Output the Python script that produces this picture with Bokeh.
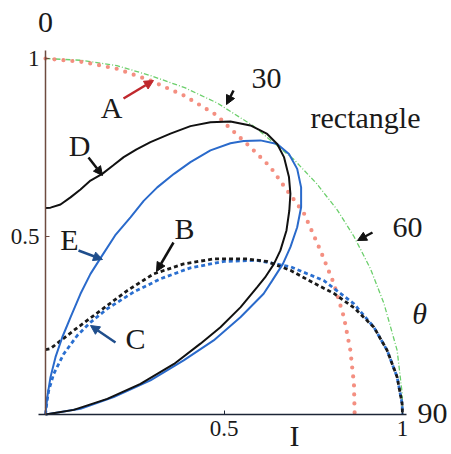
from bokeh.plotting import figure
from bokeh.models import Range1d, FixedTicker, Label, Arrow, NormalHead
from bokeh.embed import file_html
from bokeh.resources import INLINE

# ---- data (x = I sin(theta), y = I cos(theta)) ----
G_x = [0.0, 0.1, 0.2, 0.294, 0.39, 0.481, 0.583, 0.696, 0.76, 0.817, 0.864, 0.91, 0.948, 0.985, 0.999, 1.0]
G_y = [1.0, 0.995, 0.98, 0.952, 0.918, 0.875, 0.81, 0.716, 0.648, 0.575, 0.5, 0.41, 0.312, 0.18, 0.06, 0.0]

A_x = [0.0, 0.107, 0.2, 0.294, 0.388, 0.481, 0.5, 0.574, 0.63, 0.677, 0.724, 0.77, 0.808, 0.836, 0.854, 0.864, 0.866]
A_y = [1.0, 0.99, 0.971, 0.938, 0.896, 0.84, 0.82, 0.751, 0.695, 0.629, 0.565, 0.461, 0.367, 0.273, 0.18, 0.086, 0.0]

B_x = [0.0, 0.014, 0.079, 0.154, 0.229, 0.303, 0.387, 0.471, 0.565, 0.62, 0.686, 0.75, 0.808, 0.864, 0.92, 0.957, 0.985, 0.999, 1.0]
B_y = [0.182, 0.185, 0.236, 0.292, 0.348, 0.395, 0.423, 0.437, 0.437, 0.43, 0.405, 0.37, 0.34, 0.3, 0.245, 0.18, 0.105, 0.03, 0.0]

C_x = [0.0, 0.004, 0.009, 0.023, 0.051, 0.089, 0.126, 0.173, 0.247, 0.322, 0.406, 0.5, 0.593, 0.686, 0.78,
       0.864, 0.92, 0.957, 0.985, 0.999, 1.0]
C_y = [0.0, 0.035, 0.067, 0.114, 0.17, 0.222, 0.259, 0.297, 0.344, 0.381, 0.412, 0.43, 0.433, 0.415, 0.376,
       0.311, 0.245, 0.18, 0.105, 0.03, 0.0]

D_x = [0.0, 0.014, 0.042, 0.07, 0.098, 0.126, 0.159, 0.19, 0.219, 0.255, 0.294, 0.35, 0.406, 0.462, 0.518,
       0.574, 0.621, 0.649, 0.668, 0.682, 0.686, 0.683, 0.675, 0.658, 0.64, 0.615, 0.593, 0.546, 0.49, 0.434,
       0.36, 0.266, 0.173, 0.079, 0.0]
D_y = [0.58, 0.581, 0.59, 0.61, 0.632, 0.657, 0.676, 0.70, 0.723, 0.745, 0.765, 0.789, 0.810, 0.821, 0.823,
       0.812, 0.788, 0.760, 0.723, 0.667, 0.62, 0.573, 0.517, 0.461, 0.423, 0.385, 0.358, 0.301, 0.245, 0.199,
       0.142, 0.086, 0.044, 0.013, 0.0]

E_x = [0.0, 0.005, 0.014, 0.028, 0.047, 0.07, 0.098, 0.126, 0.159, 0.195, 0.238, 0.275, 0.313, 0.36, 0.406,
       0.462, 0.518, 0.555, 0.602, 0.649, 0.682, 0.705, 0.716, 0.716, 0.705, 0.686, 0.665, 0.635, 0.611, 0.546,
       0.471, 0.387, 0.294, 0.191, 0.098, 0.0]
E_y = [0.0, 0.049, 0.105, 0.161, 0.217, 0.273, 0.339, 0.395, 0.447, 0.503, 0.554, 0.6, 0.638, 0.676, 0.709,
       0.742, 0.762, 0.768, 0.77, 0.76, 0.732, 0.69, 0.638, 0.582, 0.526, 0.47, 0.423, 0.376, 0.339, 0.273,
       0.208, 0.152, 0.096, 0.049, 0.016, 0.0]

TICKS = [0.5, 1]
TICK_LABELS = {0.5: "0.5", 1: "1"}

FONT = "Liberation Serif"

# pixel geometry of the reference: x=0 at px 45, x=1 at px 402; y=0 at px 414, y=1 at px 58
X0, XS = 45.0, 357.0
Y0, YS = 414.0, 356.0
W, H = 451, 454


def dx(px):
    return (px - X0) / XS


def dy(py):
    return (Y0 - py) / YS


p = figure(width=W, height=H,
           x_range=Range1d(dx(0), dx(W)), y_range=Range1d(dy(H), dy(0)),
           output_backend="svg", toolbar_location=None,
           min_border_left=0, min_border_right=0, min_border_top=0, min_border_bottom=0)
p.grid.visible = False
p.outline_line_color = None

p.xaxis.fixed_location = 0
p.yaxis.fixed_location = 0
p.xaxis.bounds = (-0.02, 1.01)
p.yaxis.bounds = (0, 1.022)

for ax, col in ((p.xaxis[0], "#1c2536"), (p.yaxis[0], "#6e4b40")):
    ax.ticker = FixedTicker(ticks=TICKS)
    ax.major_label_overrides = TICK_LABELS
    ax.major_label_text_font = FONT
    ax.major_label_text_font_size = "23px"
    ax.major_label_text_color = "#1a1a1a"
    ax.major_label_standoff = 6
    ax.axis_line_color = col
    ax.axis_line_width = 1.5
    ax.major_tick_in = 4
    ax.major_tick_out = 0
    ax.major_tick_line_color = col
    ax.minor_tick_line_color = None

# curves
p.line(G_x, G_y, line_color="#6ccf6c", line_width=1.3, line_dash="5 2 1 2")
p.line(A_x, A_y, line_color="#f27b6b", line_width=4.2, line_dash="0 9", line_cap="round", line_alpha=0.85)
p.line(C_x, C_y, line_color="#2a6fd0", line_width=2.8, line_dash="4 3")
p.line(B_x, B_y, line_color="#1a1a1a", line_width=2.8, line_dash="4 3")
p.line(E_x, E_y, line_color="#2a6acb", line_width=2)
p.line(D_x, D_y, line_color="#111111", line_width=2)

labels = [
    ("0", 45, 22, "normal"), ("30", 266, 78, "normal"), ("rectangle", 365, 117, "normal"),
    ("60", 407, 227, "normal"), ("θ", 419, 313, "italic"), ("90", 432, 413, "normal"),
    ("I", 294, 435, "normal"),
    ("A", 111, 107, "normal"), ("D", 79, 145, "normal"), ("E", 69, 239, "normal"),
    ("B", 184, 228, "normal"), ("C", 135, 338, "normal"),
]
for t, px, py, style in labels:
    p.add_layout(Label(x=dx(px), y=dy(py), text=t, text_font=FONT, text_font_size="30px",
                       text_font_style=style, text_align="center", text_baseline="middle",
                       text_color="#1a1a1a"))

arrows = [
    (123, 98, 153, 80, "#c0282d"),
    (88, 157, 102, 175, "#111111"),
    (78, 250, 102, 259, "#1f4e8c"),
    (173, 242, 156, 271, "#111111"),
    (115, 342, 90, 325, "#1f4e8c"),
    (233, 90, 226, 104, "#111111"),
    (372, 232, 357, 240, "#111111"),
]
for x0, y0, x1, y1, c in arrows:
    p.add_layout(Arrow(end=NormalHead(size=9, fill_color=c, line_color=c),
                       x_start=dx(x0), y_start=dy(y0), x_end=dx(x1), y_end=dy(y1),
                       line_color=c, line_width=2.5))

open("out.html", "w").write(file_html(p, INLINE))
